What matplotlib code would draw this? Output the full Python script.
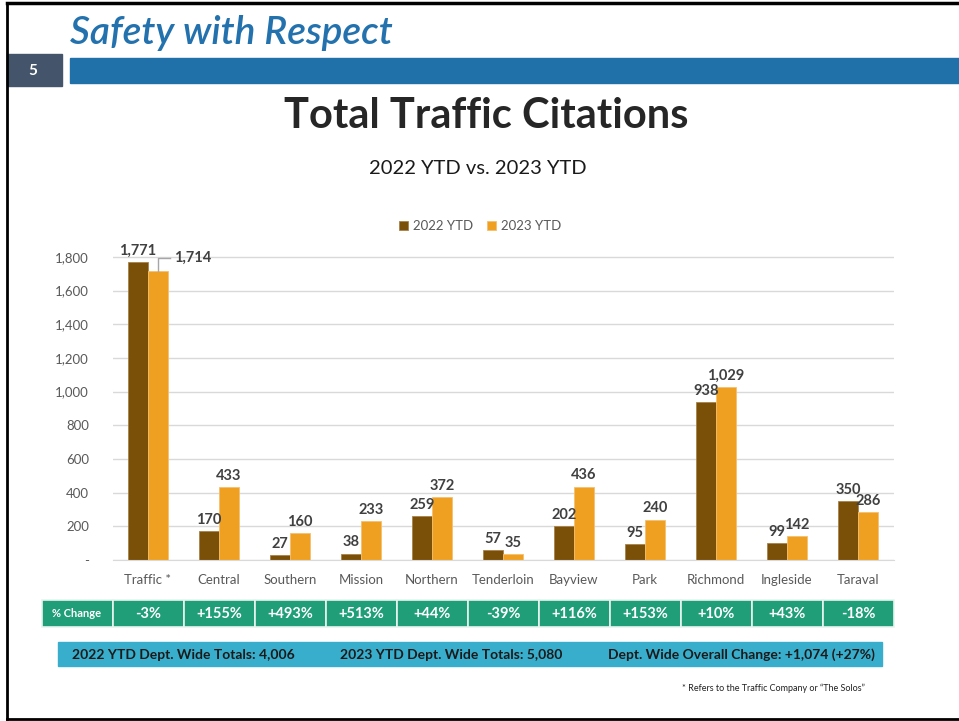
import matplotlib
matplotlib.use("Agg")
import matplotlib.pyplot as plt
from matplotlib.patches import Rectangle
from matplotlib.lines import Line2D
import numpy as np

plt.rcParams['font.family'] = ['Lato', 'DejaVu Sans']

# data
districts = ['Traffic *', 'Central', 'Southern', 'Mission', 'Northern', 'Tenderloin',
             'Bayview', 'Park', 'Richmond', 'Ingleside', 'Taraval']
ytd_2022 = [1771, 170, 27, 38, 259, 57, 202, 95, 938, 99, 350]
ytd_2023 = [1714, 433, 160, 233, 372, 35, 436, 240, 1029, 142, 286]
pct_change = ['-3%', '+155%', '+493%', '+513%', '+44%', '-39%',
              '+116%', '+153%', '+10%', '+43%', '-18%']
totals_text = ['2022 YTD Dept. Wide Totals: 4,006',
               '2023 YTD Dept. Wide Totals: 5,080',
               'Dept. Wide Overall Change: +1,074 (+27%)']
y_ticks = [0, 200, 400, 600, 800, 1000, 1200, 1400, 1600, 1800]

W, H = 959, 721
fig = plt.figure(figsize=(W / 100, H / 100), dpi=100)


def px_axes(x, y, w, h):
    # axes from pixel box (top-left origin)
    return fig.add_axes([x / W, 1 - (y + h) / H, w / W, h / H])


def fx(x):
    return x / W


def fy(y):
    return 1 - y / H


# slide frame
fig.add_artist(Line2D([fx(7), fx(7)], [fy(3), fy(719)], color='black', lw=2))
fig.add_artist(Line2D([fx(7), 1], [fy(3), fy(3)], color='black', lw=2.5))
fig.add_artist(Line2D([fx(7), 1], [fy(719), fy(719)], color='black', lw=2))

# header
fig.text(fx(70), fy(33), 'Safety with Respect', fontsize=28, style='italic',
         fontweight='semibold', color='#2372AE', va='center', ha='left')
fig.add_artist(Rectangle((fx(7), fy(86)), fx(55), 32 / H, color='#44546A'))
fig.text(fx(33), fy(71), '5', fontsize=11, color='white', ha='center', va='center',
         fontweight='bold')
fig.add_artist(Rectangle((fx(70), fy(83)), 1 - fx(70), 25 / H, color='#2070A9'))

fig.text(fx(486), fy(116), 'Total Traffic Citations', fontsize=30, fontweight='bold',
         color='#262626', ha='center', va='center')
fig.text(fx(478), fy(168), '2022 YTD vs. 2023 YTD', fontsize=14.5,
         color='#1a1a1a', ha='center', va='center')

# chart
c22 = '#7A4F07'
c23 = '#F0A020'
ax = px_axes(112.5, 243.5, 781, 316.5)
x = np.arange(len(districts))
bw = 0.28
b1 = ax.bar(x - bw / 2, ytd_2022, bw, color=c22, edgecolor='#A8834A', lw=0.6, label='2022 YTD')
b2 = ax.bar(x + bw / 2, ytd_2023, bw, color=c23, edgecolor='#F5C070', lw=0.6, label='2023 YTD')
ax.set_xlim(-0.5, len(districts) - 0.5)
ax.set_ylim(0, 1880)
ax.set_yticks(y_ticks)
ax.set_yticklabels(['-'] + [f'{v:,}' for v in y_ticks[1:]])
ax.set_xticks(x)
ax.set_xticklabels(districts)
ax.tick_params(axis='both', length=0, labelsize=9.5, colors='#595959')
ax.tick_params(axis='y', pad=17)
ax.tick_params(axis='x', pad=10)
ax.grid(axis='y', color='#D9D9D9', lw=1)
ax.set_axisbelow(True)
for s in ['top', 'right', 'left']:
    ax.spines[s].set_visible(False)
ax.spines['bottom'].set_color('#D9D9D9')

lab_kw = dict(ha='center', va='bottom', fontsize=10.5, fontweight='bold', color='#404040',
              textcoords='offset points')
for i, v in enumerate(ytd_2022):
    ax.annotate(f'{v:,}', (i - bw / 2, v), xytext=(0, 3), **lab_kw)
for i, v in enumerate(ytd_2023):
    if i == 0:
        continue
    ax.annotate(f'{v:,}', (i + bw / 2, v), xytext=(0, 3), **lab_kw)
# 1,714 label pulled off with a leader line
v = ytd_2023[0]
ax.plot([bw / 2, bw / 2, bw / 2 + 0.17], [v, v + 80, v + 80], color='#A6A6A6', lw=1)
ax.annotate(f'{v:,}', (bw / 2 + 0.17, v + 80), xytext=(3, 0), ha='left', va='center',
            fontsize=10.5, fontweight='bold', color='#404040', textcoords='offset points')

fig.legend(handles=[b1, b2], loc='center', bbox_to_anchor=(fx(480), fy(226)), ncol=2,
           frameon=False, fontsize=9.5, handlelength=0.7, handleheight=0.7,
           handletextpad=0.4, columnspacing=1.0, labelcolor='#595959')

# % change strip, aligned with the categories
green = '#1F9E78'
tax = px_axes(112.5, 600, 781, 27)
tax.set_xlim(-0.5, len(districts) - 0.5)
tax.set_ylim(0, 1)
tax.axis('off')
tax.add_patch(Rectangle((-1.49, 0), 0.99, 1, facecolor=green, edgecolor='#E8F4EF',
                        lw=1.2, clip_on=False))
tax.text(-1.0, 0.5, '% Change', ha='center', va='center', color='white', fontsize=8,
         fontweight='bold')
for i, t in enumerate(pct_change):
    tax.add_patch(Rectangle((i - 0.5, 0), 1, 1, facecolor=green, edgecolor='#E8F4EF',
                            lw=1.2, clip_on=False))
    tax.text(i, 0.5, t, ha='center', va='center', color='white', fontsize=10.5,
             fontweight='bold')

# totals bar
fig.add_artist(Rectangle((fx(58), fy(666)), (882 - 58) / W, 24 / H, color='#38AECC'))
for xp, t in zip([72, 340, 608], totals_text):
    fig.text(fx(xp), fy(655), t, ha='left', va='center', fontsize=10, fontweight='bold',
             color='#1a1a1a')

fig.text(fx(865), fy(688), '* Refers to the Traffic Company or \u201cThe Solos\u201d',
         ha='right', va='center', fontsize=6.5, color='#222222')

fig.savefig('out.png', dpi=100)
